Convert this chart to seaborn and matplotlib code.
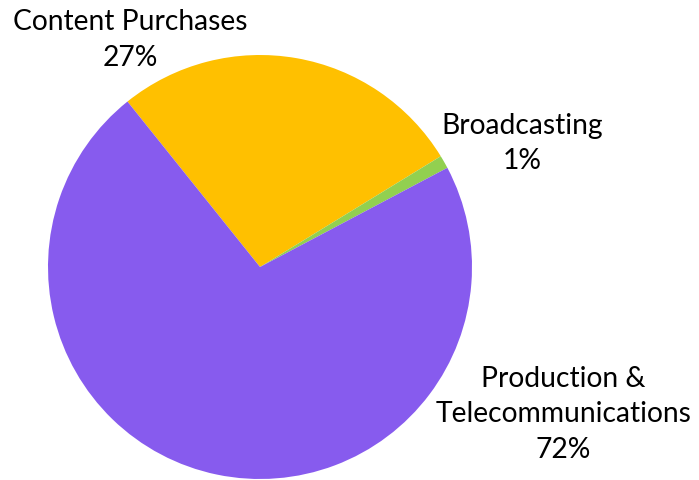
import matplotlib
matplotlib.use("Agg")
import matplotlib.pyplot as plt
import seaborn as sns

# Cost breakdown shares (percent)
categories = ["Content Purchases", "Broadcasting", "Production &\nTelecommunications"]
shares = [27, 1, 72]
colors = ["#FFC000", "#92D050", "#875BEE"]

# Where each category label sits, in pie-radius units from the centre
label_offsets = [(-0.613, 1.076), (1.236, 0.586), (1.43, -0.69)]

sns.set_style("white")
plt.rcParams["font.family"] = ["Lato", "DejaVu Sans"]

fig = plt.figure(figsize=(6.99, 4.81), dpi=100)
ax = fig.add_axes([48 / 699, 1 / 481, 424 / 699, 424 / 481])

ax.pie(shares, colors=colors, startangle=128.7, counterclock=False,
       radius=1.0, wedgeprops=dict(linewidth=0))

for name, pct, (x, y) in zip(categories, shares, label_offsets):
    ax.text(x, y, f"{name}\n{pct}%", ha="center", va="center",
            fontsize=20.3, color="black", linespacing=1.45, clip_on=False)

ax.set_xlim(-1, 1)
ax.set_ylim(-1, 1)
ax.set_aspect("equal")
ax.axis("off")

fig.savefig("out.png", dpi=100, facecolor="white")
